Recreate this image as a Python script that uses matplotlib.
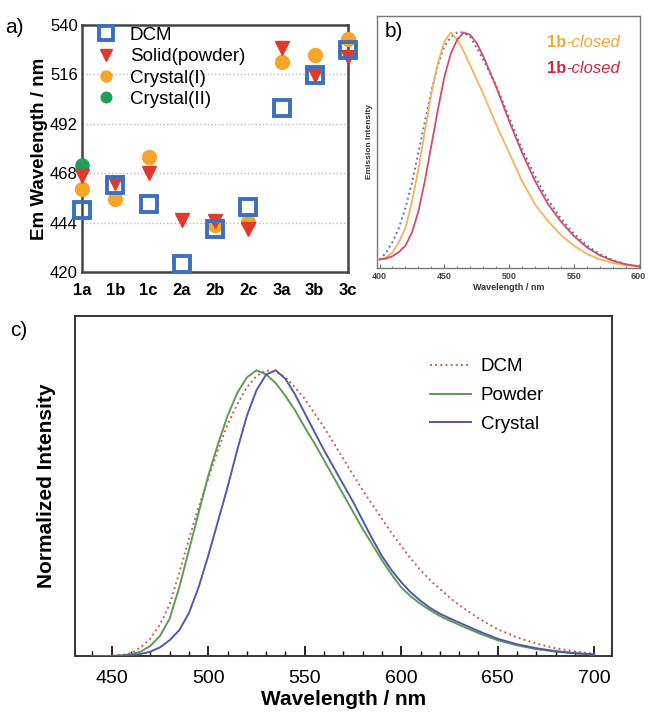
import numpy as np
import matplotlib
matplotlib.use("Agg")
import matplotlib.pyplot as plt
from matplotlib.ticker import MultipleLocator

plt.rcParams['font.family'] = ['Liberation Sans', 'DejaVu Sans']

# ---------------- Panel a data ----------------
compounds = ['1a', '1b', '1c', '2a', '2b', '2c', '3a', '3b', '3c']
dcm_em = [450, 462.5, 453, 424, 441, 451.6, 499.5, 515.7, 527.8]
solid_em = [466.7, 463.3, 468.2, 445.1, 445, 441, 528.6, 515.7, 524.6]
crystal1_em = [460.5, 455.7, 476, np.nan, 442.7, 444.3, 522.2, 525.4, 533]
crystal2_em = [471.9, np.nan, np.nan, np.nan, np.nan, np.nan, np.nan, np.nan, np.nan]
a_yticks = [420, 444, 468, 492, 516, 540]

# ---------------- Panel b data ----------------
b_wl = [400, 405, 410, 415, 420, 425, 430, 435, 440, 445, 450, 455, 460, 465, 470,
        475, 480, 490, 500, 510, 520, 530, 540, 550, 560, 570, 580, 590, 600]
b_orange = [0.036, 0.045, 0.066, 0.11, 0.17, 0.28, 0.42, 0.58, 0.74, 0.87, 0.96,
            1.0, 0.97, 0.92, 0.86, 0.80, 0.74, 0.61, 0.49, 0.37, 0.27, 0.20, 0.14,
            0.095, 0.06, 0.037, 0.022, 0.012, 0.007]
b_red = [0.036, 0.04, 0.05, 0.068, 0.095, 0.15, 0.24, 0.37, 0.52, 0.67, 0.81, 0.91,
         0.97, 1.0, 0.99, 0.955, 0.90, 0.77, 0.625, 0.49, 0.37, 0.272, 0.197, 0.136,
         0.088, 0.054, 0.031, 0.016, 0.007]
b_blue = [0.036, 0.065, 0.11, 0.17, 0.255, 0.36, 0.49, 0.62, 0.75, 0.86, 0.94, 0.98,
          1.0, 1.0, 0.98, 0.935, 0.885, 0.775, 0.64, 0.505, 0.39, 0.29, 0.21, 0.147,
          0.096, 0.059, 0.034, 0.016, 0.007]

# ---------------- Panel c data ----------------
c_wl = [440, 450, 455, 460, 465, 470, 475, 480, 485, 490, 495, 500, 505, 510, 515,
        520, 525, 530, 535, 540, 545, 550, 555, 560, 565, 570, 575, 580, 585, 590,
        595, 600, 605, 610, 615, 620, 625, 630, 640, 650, 660, 670, 680, 690, 700]
c_dcm = [0, 0, 0.003, 0.01, 0.03, 0.06, 0.11, 0.18, 0.29, 0.41, 0.52, 0.62, 0.72,
         0.81, 0.88, 0.94, 0.98, 1.0, 0.995, 0.975, 0.94, 0.90, 0.85, 0.80, 0.745,
         0.69, 0.635, 0.58, 0.53, 0.48, 0.43, 0.385, 0.34, 0.30, 0.265, 0.235,
         0.205, 0.178, 0.132, 0.093, 0.065, 0.043, 0.027, 0.016, 0.008]
c_powder = [0, 0, 0.002, 0.006, 0.015, 0.035, 0.07, 0.13, 0.24, 0.37, 0.50, 0.63,
            0.74, 0.84, 0.92, 0.975, 1.0, 0.985, 0.955, 0.91, 0.86, 0.80, 0.745,
            0.685, 0.625, 0.565, 0.505, 0.445, 0.39, 0.335, 0.285, 0.24, 0.208,
            0.182, 0.16, 0.14, 0.124, 0.109, 0.08, 0.055, 0.037, 0.024, 0.015,
            0.009, 0.005]
c_crystal = [0, 0, 0.001, 0.003, 0.007, 0.015, 0.03, 0.055, 0.09, 0.15, 0.24, 0.35,
             0.47, 0.59, 0.72, 0.84, 0.93, 0.985, 1.0, 0.97, 0.915, 0.85, 0.785,
             0.72, 0.66, 0.60, 0.54, 0.475, 0.41, 0.35, 0.30, 0.258, 0.222, 0.193,
             0.168, 0.148, 0.132, 0.117, 0.087, 0.06, 0.041, 0.027, 0.017, 0.01,
             0.005]
c_xticks = [450, 500, 550, 600, 650, 700]

fig = plt.figure(figsize=(6.51, 7.13), dpi=100)

# ================= Panel a =================
axa = fig.add_axes([0.126, 0.6185, 0.4086, 0.3465])
x = np.arange(len(compounds))
axa.plot(x, crystal2_em, 'o', color='#1e9e5a', ms=9.5, ls='none', label='Crystal(II)',
         clip_on=False, zorder=3)
axa.plot(x, crystal1_em, 'o', color='#f5a52a', ms=10, ls='none', label='Crystal(I)',
         clip_on=False, zorder=4)
axa.plot(x, solid_em, 'v', color='#e03a2a', ms=10.5, ls='none', label='Solid(powder)',
         clip_on=False, zorder=5)
axa.plot(x, dcm_em, 's', mfc='none', mec='#3d6fbf', mew=2.8, ms=12, ls='none',
         label='DCM', clip_on=False, zorder=6)
axa.set_xlim(0, len(compounds) - 1)
axa.set_ylim(420, 540)
axa.set_yticks(a_yticks)
axa.set_xticks(x)
axa.set_xticklabels(compounds, fontweight='bold', fontsize=12)
for lab in axa.get_yticklabels():
    lab.set_fontsize(12)
axa.tick_params(axis='y', length=0, pad=3)
axa.tick_params(axis='x', length=0, pad=8)
for yv in a_yticks[1:-1]:
    axa.axhline(yv, color='#bbbbbb', ls=':', lw=1.0, zorder=1)
for s in axa.spines.values():
    s.set_linewidth(1.8)
    s.set_color('#444444')
axa.set_ylabel('Em Wavelength / nm', fontweight='bold', fontsize=13.5, labelpad=1)
h, l = axa.get_legend_handles_labels()
axa.legend(h[::-1], l[::-1], loc='upper left', frameon=False, fontsize=13.5,
           handletextpad=0.45, labelspacing=0.22, borderaxespad=0.1,
           handlelength=1.6, markerscale=0.8, bbox_to_anchor=(0.0, 1.03))
fig.text(0.008, 0.962, 'a)', fontsize=15, va='center')

# ================= Panel b =================
axb = fig.add_axes([0.579, 0.6241, 0.404, 0.3535])
axb.plot(b_wl, b_blue, ':', color='#5572c4', lw=1.4, zorder=3)
axb.plot(b_wl, b_orange, '-', color='#f2b45a', lw=1.3, zorder=4)
axb.plot(b_wl, b_red, '-', color='#d84a66', lw=1.3, zorder=5)
axb.set_xlim(398, 601)
axb.set_ylim(0, 1.07)
axb.set_yticks([])
axb.set_xticks([400, 450, 500, 550, 600])
axb.xaxis.set_minor_locator(MultipleLocator(10))
axb.tick_params(axis='x', which='major', direction='in', length=3, labelsize=6.5,
                pad=3, color='#666666')
axb.tick_params(axis='x', which='minor', direction='in', length=1.5, color='#666666')
for lab in axb.get_xticklabels():
    lab.set_fontweight('bold')
    lab.set_color('#444444')
for s in axb.spines.values():
    s.set_linewidth(1.0)
    s.set_color('#777777')
axb.set_xlabel('Wavelength / nm', fontsize=6.5, fontweight='bold', labelpad=1.5,
               color='#333333')
axb.set_ylabel('Emission Intensity', fontsize=6, fontweight='bold', labelpad=3,
               color='#333333')
axb.text(0.03, 0.975, 'b)', transform=axb.transAxes, fontsize=15, va='top', ha='left')
t1 = axb.text(0.645, 0.895, '1b', transform=axb.transAxes, fontsize=12,
              fontweight='bold', color='#f0a830', va='center', ha='left')
axb.annotate('-closed', xy=(1, 0), xycoords=t1, va='bottom', ha='left',
             fontsize=12, style='italic', color='#f0a830')
t2 = axb.text(0.645, 0.79, '1b', transform=axb.transAxes, fontsize=12,
              fontweight='bold', color='#cc2840', va='center', ha='left')
axb.annotate('-closed', xy=(1, 0), xycoords=t2, va='bottom', ha='left',
             fontsize=12, style='italic', color='#cc2840')

# ================= Panel c =================
axc = fig.add_axes([0.1152, 0.080, 0.8244, 0.4768])
axc.plot(c_wl, c_dcm, ':', color='#d05a55', lw=1.4, label='DCM', zorder=3)
axc.plot(c_wl, c_powder, '-', color='#5e9c55', lw=1.4, label='Powder', zorder=4)
axc.plot(c_wl, c_crystal, '-', color='#4f5aa8', lw=1.4, label='Crystal', zorder=5)
axc.set_xlim(431, 709)
axc.set_ylim(0, 1.19)
axc.set_yticks([])
axc.set_xticks(c_xticks)
axc.xaxis.set_minor_locator(MultipleLocator(10))
axc.tick_params(axis='x', which='major', direction='in', length=7, width=1.2,
                labelsize=14, pad=10)
axc.tick_params(axis='x', which='minor', direction='in', length=3.5, width=1.0)
for s in axc.spines.values():
    s.set_linewidth(1.4)
    s.set_color('#333333')
axc.set_xlabel('Wavelength / nm', fontsize=15, fontweight='bold', labelpad=2)
axc.set_ylabel('Normalized Intensity', fontsize=15, fontweight='bold', labelpad=14)
axc.legend(loc='upper left', frameon=False, fontsize=13.5, handlelength=2.2,
           handletextpad=0.5, labelspacing=0.62, bbox_to_anchor=(0.63, 0.925))
fig.text(0.015, 0.537, 'c)', fontsize=15, va='center')

fig.savefig('out.png', dpi=100)
